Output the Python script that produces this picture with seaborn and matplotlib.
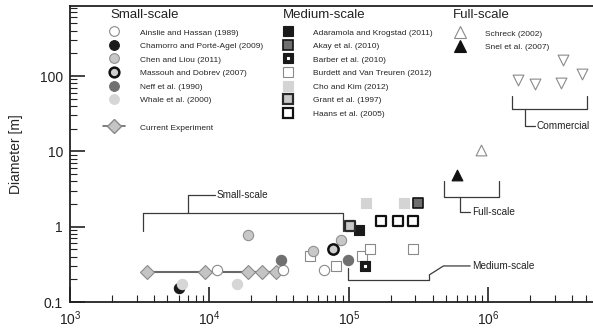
"""
Rotor diameter vs Reynolds number for small-, medium- and full-scale
wind turbine studies (log-log scatter with bracket annotations).
"""

import matplotlib
matplotlib.use("Agg")
import matplotlib.pyplot as plt
from matplotlib.lines import Line2D
from matplotlib.ticker import FuncFormatter, LogLocator
import seaborn as sns

# ---- data (Reynolds number, diameter [m]) ----
current_re = [3560, 9240, 18800, 23800, 29900]
current_d = [0.25, 0.25, 0.25, 0.25, 0.25]

# small-scale (circles)
ainslie_re = [11300, 33500, 65800]
ainslie_d = [0.27, 0.27, 0.27]
chamorro_re = [6000]
chamorro_d = [0.152]
chen_re = [18900, 54800, 88100]
chen_d = [0.78, 0.47, 0.67]
massouh_re = [76700]
massouh_d = [0.50]
neff_re = [32700, 97800]
neff_d = [0.36, 0.36]
whale_re = [6370, 15800]
whale_d = [0.175, 0.175]

# medium-scale (squares)
adaramola_re = [118600]
adaramola_d = [0.90]
akay_re = [315000]
akay_d = [2.05]
barber_re = [131000]
barber_d = [0.30]
burdett_re = [52800, 80700, 125000, 142000, 287000]
burdett_d = [0.41, 0.30, 0.41, 0.50, 0.50]
cho_re = [133000, 250000]
cho_d = [2.05, 2.05]
grant_re = [102000]
grant_d = [1.02]
haans_re = [169000, 226000, 287000]
haans_d = [1.2, 1.2, 1.2]

# full-scale (triangles)
schreck_re = [887000]
schreck_d = [10.5]
snel_re = [600000]
snel_d = [4.9]
commercial_re = [1640000, 2160000, 3300000, 3440000, 4710000]
commercial_d = [89, 78, 81, 165, 108]

# bracket annotations: (x, y) paths and their label anchor
small_bracket = [(3360, 0.87), (3360, 1.51), (91400, 1.51), (91400, 0.87)]
small_stem = [(7025, 1.51), (7025, 2.65), (10900, 2.65)]
medium_bracket = [(98500, 0.281), (98500, 0.196), (377000, 0.196), (377000, 0.229)]
medium_stem = [(377000, 0.229), (476000, 0.301), (740000, 0.301)]
full_bracket = [(482000, 3.98), (482000, 2.51), (1193000, 2.51), (1193000, 3.98)]
full_stem = [(627000, 2.51), (627000, 1.59), (740000, 1.59)]
comm_bracket = [(1471000, 53.7), (1471000, 36.5), (5120000, 36.5), (5120000, 53.7)]
comm_stem = [(1830000, 36.5), (1830000, 21.4), (2160000, 21.4)]
bracket_labels = [("Small-scale", 11300, 2.65), ("Medium-scale", 765000, 0.301),
                  ("Full-scale", 765000, 1.59), ("Commercial", 2220000, 21.4)]

sns.set_style("ticks")
plt.rcParams["font.family"] = ["Liberation Sans", "DejaVu Sans"]

fig = plt.figure(figsize=(5.93, 3.32), dpi=100)
ax = fig.add_axes([70 / 593, 30 / 332, 523 / 593, 296 / 332])

GRAY_EDGE = "#8a8a8a"
S_CIRC = 55
S_SQ = 50
S_TRI = 60


def scatter(x, y, marker, face, edge=None, lw=0.8, s=S_CIRC, z=3):
    sns.scatterplot(x=x, y=y, ax=ax, marker=marker, s=s, color=face,
                    edgecolor=edge if edge else face, linewidth=lw,
                    legend=False, zorder=z)


# current experiment
sns.lineplot(x=current_re, y=current_d, ax=ax, color="#686868", lw=1.5,
             marker="D", markersize=7, markerfacecolor="#c4c4c4",
             markeredgecolor="#8a8a8a", markeredgewidth=0.8, zorder=2)

# small-scale
scatter(ainslie_re, ainslie_d, "o", "white", GRAY_EDGE)
scatter(chamorro_re, chamorro_d, "o", "#1a1a1a")
scatter(whale_re, whale_d, "o", "#d6d6d6")
scatter(chen_re, chen_d, "o", "#c8c8c8", "#909090")
scatter(massouh_re, massouh_d, "o", "#cfcfcf", "#111111", lw=1.8)
scatter(neff_re, neff_d, "o", "#707070")

# medium-scale
scatter(burdett_re, burdett_d, "s", "white", GRAY_EDGE, s=S_SQ, z=2.5)
scatter(cho_re, cho_d, "s", "#d4d4d4", s=S_SQ)
scatter(adaramola_re, adaramola_d, "s", "#1a1a1a", s=S_SQ)
scatter(grant_re, grant_d, "s", "#c8c8c8", "#2a2a2a", lw=1.6, s=S_SQ, z=3.5)
scatter(haans_re, haans_d, "s", "white", "#111111", lw=1.6, s=S_SQ)
scatter(akay_re, akay_d, "s", "#6e6e6e", "#111111", lw=1.2, s=S_SQ)
scatter(barber_re, barber_d, "s", "#1a1a1a", s=S_SQ)
scatter(barber_re, barber_d, "s", "white", s=4, z=4)

# full-scale
scatter(schreck_re, schreck_d, "^", "white", GRAY_EDGE, s=S_TRI)
scatter(snel_re, snel_d, "^", "#111111", s=S_TRI)
scatter(commercial_re, commercial_d, "v", "white", GRAY_EDGE, s=S_TRI)

# brackets
for path in [small_bracket, small_stem, medium_bracket, medium_stem,
             full_bracket, full_stem, comm_bracket, comm_stem]:
    xs, ys = zip(*path)
    ax.plot(xs, ys, color="#3a3a3a", lw=0.9, zorder=1)
for text, tx, ty in bracket_labels:
    ax.text(tx, ty, text, fontsize=7.2, va="center", ha="left", color="#222222")

# axes
ax.set_xscale("log")
ax.set_yscale("log")
ax.set_xlim(1e3, 10 ** 6.75)
ax.set_ylim(0.1, 10 ** 2.93)
ax.xaxis.set_minor_locator(LogLocator(base=10, subs=range(2, 10), numticks=20))
ax.yaxis.set_minor_locator(LogLocator(base=10, subs=range(2, 10), numticks=20))
ax.yaxis.set_major_formatter(FuncFormatter(lambda v, _: f"{v:g}"))
ax.set_ylabel("Diameter [m]", fontsize=10, labelpad=12)
ax.tick_params(which="major", direction="in", length=11, width=1.2,
               labelsize=10, pad=5, colors="#222222")
ax.tick_params(which="minor", direction="in", length=5, width=0.8,
               colors="#222222")
ax.tick_params(top=False, right=False, which="both")
ax.spines["right"].set_visible(False)
for side in ["left", "bottom", "top"]:
    ax.spines[side].set_linewidth(1.3)
    ax.spines[side].set_color("#222222")


# legends
def h(marker, face, edge=None, lw=0.8, ms=7, ls="none"):
    return Line2D([], [], marker=marker, linestyle=ls, markersize=ms,
                  markerfacecolor=face, markeredgecolor=edge if edge else face,
                  markeredgewidth=lw)


small_handles = [
    h("o", "white", GRAY_EDGE), h("o", "#1a1a1a"), h("o", "#c8c8c8", "#909090"),
    h("o", "#cfcfcf", "#111111", lw=1.8), h("o", "#707070"), h("o", "#d6d6d6"),
    Line2D([], [], linestyle="none"),
    Line2D([], [], color="#686868", lw=1.2, marker="D", markersize=7,
           markerfacecolor="#c4c4c4", markeredgecolor="#8a8a8a"),
]
small_labels = ["Ainslie and Hassan (1989)", "Chamorro and Porté-Agel (2009)",
                "Chen and Liou (2011)", "Massouh and Dobrev (2007)",
                "Neff et al. (1990)", "Whale et al. (2000)", "", "Current Experiment"]

medium_handles = [
    h("s", "#1a1a1a"), h("s", "#6e6e6e", "#111111", lw=1.2),
    (h("s", "#1a1a1a"), h("s", "white", ms=2)),
    h("s", "white", GRAY_EDGE), h("s", "#d4d4d4"),
    h("s", "#c8c8c8", "#2a2a2a", lw=1.6), h("s", "white", "#111111", lw=1.6),
]
medium_labels = ["Adaramola and Krogstad (2011)", "Akay et al. (2010)",
                 "Barber et al. (2010)", "Burdett and Van Treuren (2012)",
                 "Cho and Kim (2012)", "Grant et al. (1997)", "Haans et al. (2005)"]

full_handles = [h("^", "white", GRAY_EDGE, ms=8), h("^", "#111111", ms=8)]
full_labels = ["Schreck (2002)", "Snel et al. (2007)"]

common = dict(frameon=False, fontsize=6, borderpad=0, borderaxespad=0,
              loc="upper left", labelspacing=0.6, handleheight=1.0,
              numpoints=1)
leg1 = ax.legend(small_handles, small_labels, handlelength=2.64,
                 handletextpad=1.8, bbox_to_anchor=((103 - 70) / 523, (302 - 28) / 296),
                 **common)
ax.add_artist(leg1)
leg2 = ax.legend(medium_handles, medium_labels, handlelength=1.2,
                 handletextpad=2.4, bbox_to_anchor=((283 - 70) / 523, (302 - 28) / 296),
                 **common)
ax.add_artist(leg2)
ax.legend(full_handles, full_labels, handlelength=1.2, handletextpad=2.4,
          bbox_to_anchor=((455 - 70) / 523, (302 - 29) / 296), **common)

for title, tx in [("Small-scale", 110), ("Medium-scale", 283), ("Full-scale", 453)]:
    ax.text((tx - 70) / 523, (302 - 15) / 296, title, transform=ax.transAxes,
            fontsize=9.5, ha="left", va="center", color="#222222")

fig.savefig("out.png", dpi=100)
